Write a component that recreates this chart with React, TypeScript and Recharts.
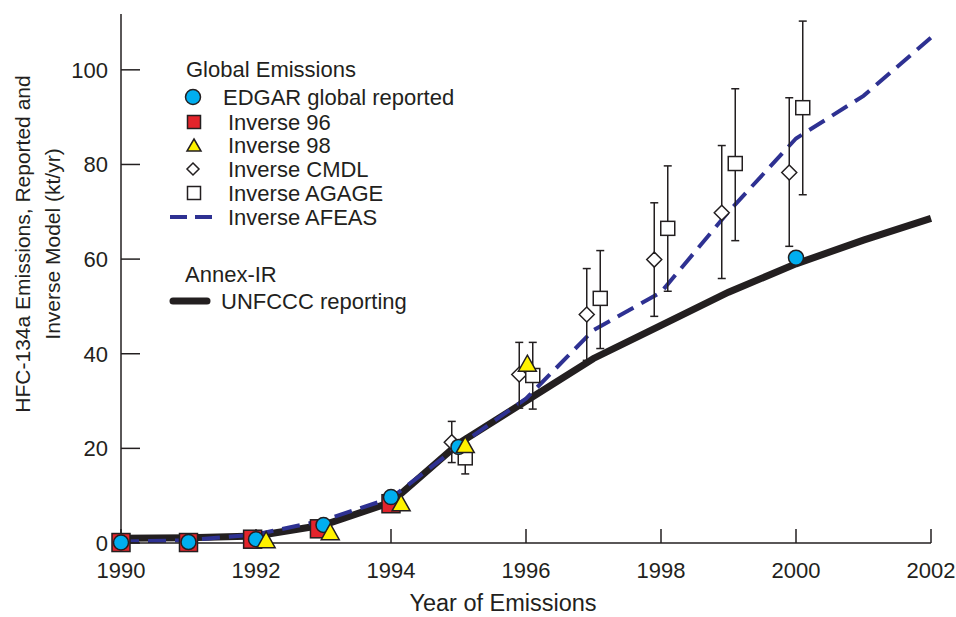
import React from 'react'
import { ComposedChart, Line, Scatter, XAxis, YAxis, ErrorBar, Legend, Label } from 'recharts'

const years = [1990, 1991, 1992, 1993, 1994, 1995, 1996, 1997, 1998, 1999, 2000, 2001, 2002]
const unfccc = [1.0, 1.1, 1.5, 3.8, 8.6, 21.0, 30.0, 39.0, 46.0, 53.0, 59.0, 64.0, 68.6]
const afeas = [0.3, 0.6, 1.8, 4.8, 9.5, 20.5, 30.5, 45.0, 53.0, 70.0, 85.5, 94.5, 106.8]

const edgarYears = [1990, 1991, 1992, 1993, 1994, 1995, 2000]
const edgar = [0.1, 0.2, 0.8, 3.8, 9.7, 20.3, 60.3]

const inv96Years = [1990, 1991, 1991.95, 1992.94, 1994]
const inv96 = [0.1, 0.1, 0.8, 3.0, 8.3]

const inv98Years = [1992.15, 1993.1, 1994.15, 1995.1, 1996.02]
const inv98 = [0.7, 2.4, 8.5, 20.8, 38.0]

const cmdlYears = [1994.9, 1995.9, 1996.9, 1997.9, 1998.9, 1999.9]
const cmdl = [21.3, 35.6, 48.3, 59.9, 69.8, 78.3]
const cmdlLow = [17.0, 28.5, 38.6, 47.9, 55.9, 62.7]
const cmdlHigh = [25.7, 42.4, 58.0, 71.9, 84.0, 94.1]

const agageYears = [1995.1, 1996.1, 1997.1, 1998.1, 1999.1, 2000.1]
const agage = [18.0, 35.4, 51.7, 66.5, 80.2, 92.0]
const agageLow = [14.6, 28.3, 41.1, 53.2, 63.9, 73.6]
const agageHigh = [21.8, 42.4, 61.8, 79.7, 96.0, 110.3]

const xTicks = [1990, 1992, 1994, 1996, 1998, 2000, 2002]
const yTicks = [0, 20, 40, 60, 80, 100]

const pairs = (xs: number[], ys: number[]) => xs.map((x, i) => ({ x, y: ys[i] }))
const withErr = (xs: number[], ys: number[], lo: number[], hi: number[]) =>
  xs.map((x, i) => ({ x, y: ys[i], err: [ys[i] - lo[i], hi[i] - ys[i]] }))

const unfcccData = pairs(years, unfccc)
const afeasData = pairs(years, afeas)
const edgarData = pairs(edgarYears, edgar)
const inv96Data = pairs(inv96Years, inv96)
const inv98Data = pairs(inv98Years, inv98)
const cmdlData = withErr(cmdlYears, cmdl, cmdlLow, cmdlHigh)
const agageData = withErr(agageYears, agage, agageLow, agageHigh)

const INK = '#231f20'
const CYAN = '#00aeef'
const RED = '#e3242b'
const YELLOW = '#fff200'
const NAVY = '#2e3192'
const FONT = '"Liberation Sans", Arial, Helvetica, sans-serif'

const CircleDot = (p: any) => <circle cx={p.cx} cy={p.cy} r={7.5} fill={CYAN} stroke={INK} strokeWidth={1.5} />
const RedSquare = (p: any) => <rect x={p.cx - 9} y={p.cy - 9} width={18} height={18} fill={RED} stroke={INK} strokeWidth={1.5} />
const YellowTri = (p: any) => (
  <polygon points={`${p.cx},${p.cy - 8} ${p.cx + 9},${p.cy + 8} ${p.cx - 9},${p.cy + 8}`} fill={YELLOW} stroke={INK} strokeWidth={1.5} />
)
const Diamond = (p: any) => (
  <polygon points={`${p.cx},${p.cy - 7.5} ${p.cx + 7.5},${p.cy} ${p.cx},${p.cy + 7.5} ${p.cx - 7.5},${p.cy}`} fill="#fff" stroke={INK} strokeWidth={1.5} />
)
const OpenSquare = (p: any) => <rect x={p.cx - 7} y={p.cy - 7} width={14} height={14} fill="#fff" stroke={INK} strokeWidth={1.5} />

const textStyle = { fontFamily: FONT, fontSize: 21, fill: INK }
const legendText = { fontFamily: FONT, fontSize: 22, fill: INK }

const LegendBox = () => (
  <svg width={480} height={320} style={{ display: 'block' }}>
    <text x={186} y={77} {...legendText}>Global Emissions</text>
    <circle cx={193} cy={97} r={7.5} fill={CYAN} stroke={INK} strokeWidth={1.5} />
    <text x={223} y={105} {...legendText}>EDGAR global reported</text>
    <rect x={187.5} y={115.5} width={13} height={13} fill={RED} stroke={INK} strokeWidth={1.5} />
    <text x={228} y={130} {...legendText}>Inverse 96</text>
    <polygon points="194,139 201,151 187,151" fill={YELLOW} stroke={INK} strokeWidth={1.5} />
    <text x={228} y={153} {...legendText}>Inverse 98</text>
    <polygon points="193,163 199,169 193,175 187,169" fill="#fff" stroke={INK} strokeWidth={1.5} />
    <text x={228} y={177} {...legendText}>Inverse CMDL</text>
    <rect x={187.5} y={186.5} width={13} height={13} fill="#fff" stroke={INK} strokeWidth={1.5} />
    <text x={228} y={201} {...legendText}>Inverse AGAGE</text>
    <line x1={170} y1={217} x2={212} y2={217} stroke={NAVY} strokeWidth={4} strokeDasharray="17 8" />
    <text x={228} y={225} {...legendText}>Inverse AFEAS</text>
    <text x={185} y={282} {...legendText}>Annex-IR</text>
    <line x1={173} y1={301} x2={207} y2={301} stroke={INK} strokeWidth={7} strokeLinecap="round" />
    <text x={221} y={309} {...legendText}>UNFCCC reporting</text>
  </svg>
)

const YTitle = () => (
  <text transform="translate(0,244) rotate(-90)" textAnchor="middle" {...textStyle}>
    <tspan x={0} y={29.5}>HFC-134a Emissions, Reported and</tspan>
    <tspan x={0} y={59.5}>Inverse Model (kt/yr)</tspan>
  </text>
)

const XTitle = () => (
  <text x={503} y={611} textAnchor="middle" fontFamily={FONT} fontSize={23.5} fill={INK}>
    Year of Emissions
  </text>
)

const axisLine = { stroke: INK, strokeWidth: 1.5 }
const tickStyle = { fontFamily: FONT, fontSize: 22, fill: INK }

export default function App() {
  return (
    <div style={{ position: 'absolute', left: 0, top: 0, width: 956, height: 617, background: '#fff' }}>
      <ComposedChart width={956} height={617} margin={{ top: 14, right: 25, left: 0, bottom: 0 }}>
        <XAxis
          xAxisId="b"
          type="number"
          dataKey="x"
          domain={[1990, 2002]}
          ticks={xTicks}
          height={74}
          axisLine={axisLine}
          tickLine={axisLine}
          tickSize={-14}
          tickMargin={33}
          tick={tickStyle}
        >
          <Label content={XTitle} />
        </XAxis>
        <XAxis
          xAxisId="t"
          orientation="top"
          type="number"
          dataKey="x"
          domain={[1990, 2002]}
          ticks={xTicks}
          height={0}
          axisLine={axisLine}
          tickLine={axisLine}
          tickSize={-18}
          tickFormatter={() => ''}
        />
        <YAxis
          yAxisId="l"
          type="number"
          domain={[0, 111.8]}
          ticks={yTicks}
          width={121}
          axisLine={axisLine}
          tickLine={axisLine}
          tickSize={-19}
          tickMargin={32}
          tick={tickStyle}
        >
          <Label content={YTitle} />
        </YAxis>
        <YAxis
          yAxisId="r"
          orientation="right"
          type="number"
          domain={[0, 111.8]}
          ticks={yTicks}
          width={0}
          axisLine={axisLine}
          tickLine={axisLine}
          tickSize={-19}
          tickFormatter={() => ''}
        />
        <Line xAxisId="b" yAxisId="l" data={unfcccData} dataKey="y" type="linear" stroke={INK} strokeWidth={7} dot={false} isAnimationActive={false} />
        <Line xAxisId="b" yAxisId="l" data={afeasData} dataKey="y" type="linear" stroke={NAVY} strokeWidth={4} strokeDasharray="18 9" dot={false} isAnimationActive={false} />
        <Scatter xAxisId="b" yAxisId="l" data={cmdlData} dataKey="y" shape={Diamond} isAnimationActive={false}>
          <ErrorBar dataKey="err" direction="y" width={4} stroke={INK} strokeWidth={1.5} />
        </Scatter>
        <Scatter xAxisId="b" yAxisId="l" data={agageData} dataKey="y" shape={OpenSquare} isAnimationActive={false}>
          <ErrorBar dataKey="err" direction="y" width={4} stroke={INK} strokeWidth={1.5} />
        </Scatter>
        <Scatter xAxisId="b" yAxisId="l" data={inv96Data} dataKey="y" shape={RedSquare} isAnimationActive={false} />
        <Scatter xAxisId="b" yAxisId="l" data={edgarData} dataKey="y" shape={CircleDot} isAnimationActive={false} />
        <Scatter xAxisId="b" yAxisId="l" data={inv98Data} dataKey="y" shape={YellowTri} isAnimationActive={false} />
        <Legend
          layout="vertical"
          align="center"
          verticalAlign="middle"
          content={LegendBox}
          wrapperStyle={{ left: 0, top: 0, width: 480, height: 320 }}
        />
      </ComposedChart>
    </div>
  )
}
